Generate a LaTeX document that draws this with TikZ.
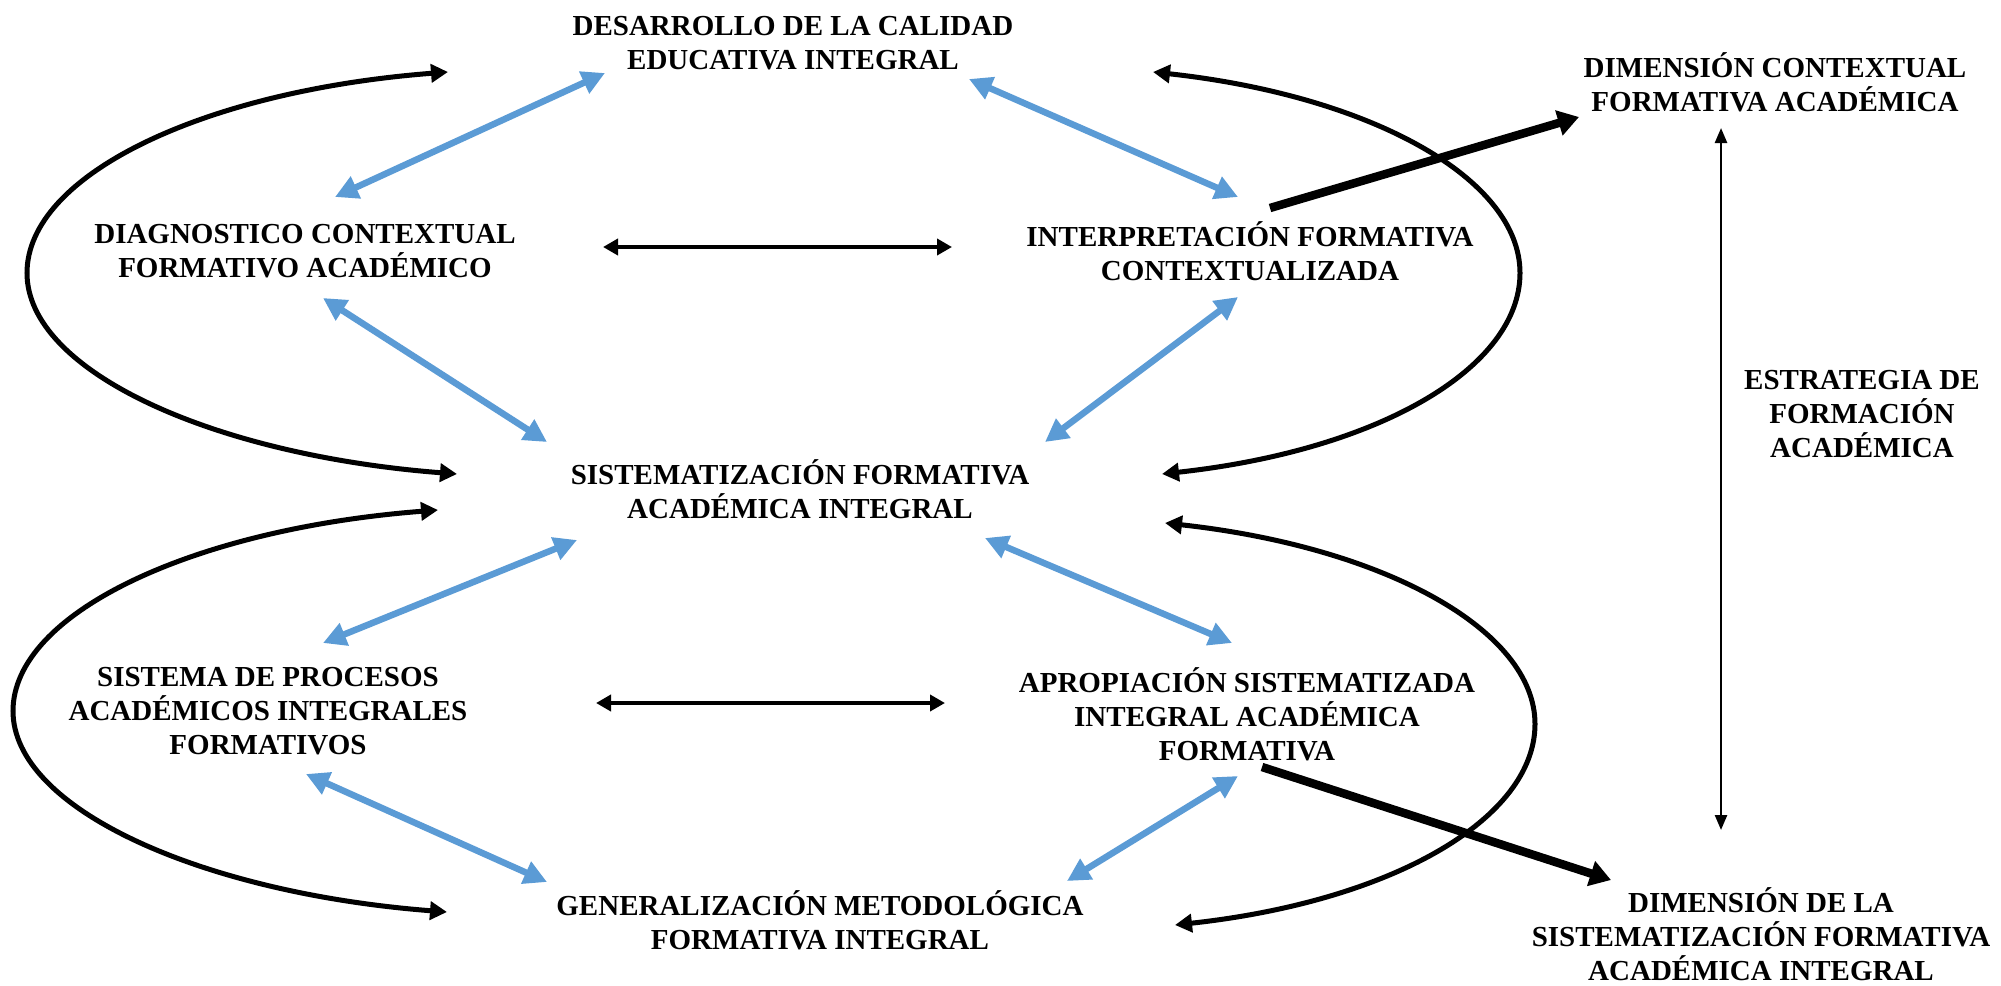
\documentclass[tikz,border=0pt]{standalone}
\usepackage{fontspec}
\setmainfont{Liberation Serif}
\usetikzlibrary{arrows.meta}
\definecolor{bluearr}{HTML}{5B9BD5}
\begin{document}
\begin{tikzpicture}[x=1pt,y=-1pt,
  lbl/.style={font=\fontsize{29}{34}\selectfont\bfseries, align=center, inner sep=0pt,
              execute at begin node={\vphantom{É}}},
  bluearrow/.style={draw=bluearr, line width=6.5pt,
     {Triangle[length=23pt,width=23pt]}-{Triangle[length=23pt,width=23pt]}},
  harrow/.style={line width=4pt,
     {Triangle[length=15pt,width=16pt]}-{Triangle[length=15pt,width=16pt]}},
  curvearrow/.style={line width=5pt,
     {Triangle[length=17pt,width=18pt]}-{Triangle[length=17pt,width=18pt]}},
  bigarrow/.style={line width=8.5pt, -{Triangle[length=21pt,width=25pt]}},
  thinarrow/.style={line width=2.5pt,
     {Triangle[length=15pt,width=12pt]}-{Triangle[length=15pt,width=12pt]}}]
\useasboundingbox (0,0) rectangle (2001,985);

% text nodes
\node[lbl] (desarrollo) at (793,43)  {DESARROLLO DE LA CALIDAD\\EDUCATIVA INTEGRAL};
\node[lbl] (diag)       at (305,251) {DIAGNOSTICO CONTEXTUAL\\FORMATIVO ACADÉMICO};
\node[lbl] (interp)     at (1250,251) {INTERPRETACIÓN FORMATIVA\\CONTEXTUALIZADA};
\node[lbl] (dimctx)     at (1775,82) {DIMENSIÓN CONTEXTUAL\\FORMATIVA ACADÉMICA};
\node[lbl] (estrat)     at (1862,414) {ESTRATEGIA DE\\FORMACIÓN\\ACADÉMICA};
\node[lbl] (sistem)     at (800,489) {SISTEMATIZACIÓN FORMATIVA\\ACADÉMICA INTEGRAL};
\node[lbl] (sistema)    at (268,711) {SISTEMA DE PROCESOS\\ACADÉMICOS INTEGRALES\\FORMATIVOS};
\node[lbl] (apro)       at (1247,714) {APROPIACIÓN SISTEMATIZADA\\INTEGRAL ACADÉMICA\\FORMATIVA};
\node[lbl] (gen)        at (820,920) {GENERALIZACIÓN METODOLÓGICA\\FORMATIVA INTEGRAL};
\node[lbl] (dimsis)     at (1761,934) {DIMENSIÓN DE LA\\SISTEMATIZACIÓN FORMATIVA\\ACADÉMICA INTEGRAL};

% connector end points
\coordinate (b1a) at (605,73);   \coordinate (b1b) at (335,197);
\coordinate (b2a) at (969,79);   \coordinate (b2b) at (1238,197);
\coordinate (b3a) at (323,298);  \coordinate (b3b) at (547,442);
\coordinate (b4a) at (1238,297); \coordinate (b4b) at (1045,442);
\coordinate (b5a) at (577,540);  \coordinate (b5b) at (323,643);
\coordinate (b6a) at (985,538);  \coordinate (b6b) at (1232,643);
\coordinate (b7a) at (306,774);  \coordinate (b7b) at (547,882);
\coordinate (b8a) at (1238,776); \coordinate (b8b) at (1067,881);

\coordinate (h1a) at (603,247);  \coordinate (h1b) at (952,247);
\coordinate (h2a) at (596,703);  \coordinate (h2b) at (945,703);

\coordinate (t1a) at (1270,208); \coordinate (t1b) at (1579,117);
\coordinate (t2a) at (1262,767); \coordinate (t2b) at (1611,880);

\coordinate (va) at (1721,128);  \coordinate (vb) at (1721,830);

\coordinate (ulA) at (448,72);   \coordinate (ulM) at (27,273);   \coordinate (ulB) at (457,474);
\coordinate (llA) at (438,510);  \coordinate (llM) at (13,711);   \coordinate (llB) at (447,912);
\coordinate (urA) at (1153,72);  \coordinate (urM) at (1520,273); \coordinate (urB) at (1162,474);
\coordinate (lrA) at (1165,523); \coordinate (lrM) at (1535,724); \coordinate (lrB) at (1175,925);

% blue double arrows
\draw[bluearrow] (b1a) -- (b1b);
\draw[bluearrow] (b2a) -- (b2b);
\draw[bluearrow] (b3a) -- (b3b);
\draw[bluearrow] (b4a) -- (b4b);
\draw[bluearrow] (b5a) -- (b5b);
\draw[bluearrow] (b6a) -- (b6b);
\draw[bluearrow] (b7a) -- (b7b);
\draw[bluearrow] (b8a) -- (b8b);

% horizontal black arrows
\draw[harrow] (h1a) -- (h1b);
\draw[harrow] (h2a) -- (h2b);

% curved cycle arrows
\draw[curvearrow] (ulA) .. controls (203,91) and (27,175) .. (ulM)
                        .. controls (27,371) and (212,455) .. (ulB);
\draw[curvearrow] (llA) .. controls (193,529) and (13,613) .. (llM)
                        .. controls (13,809) and (202,893) .. (llB);
\draw[curvearrow] (urA) .. controls (1372,96) and (1520,179) .. (urM)
                        .. controls (1520,367) and (1381,450) .. (urB);
\draw[curvearrow] (lrA) .. controls (1384,547) and (1535,630) .. (lrM)
                        .. controls (1535,818) and (1394,901) .. (lrB);

% thick arrows to dimensions
\draw[bigarrow] (t1a) -- (t1b);
\draw[bigarrow] (t2a) -- (t2b);

% vertical arrow
\draw[thinarrow] (va) -- (vb);
\end{tikzpicture}
\end{document}
